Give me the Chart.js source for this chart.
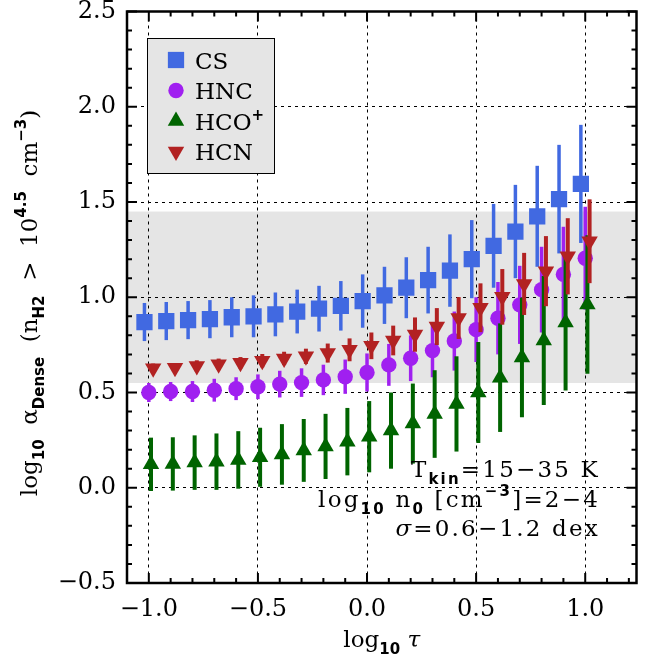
<!DOCTYPE html>
<html>
<head>
<meta charset="utf-8">
<script src="https://cdn.jsdelivr.net/npm/chart.js@4.4.1/dist/chart.umd.min.js"></script>
<style>
  html, body { margin: 0; padding: 0; background: #fff; }
  #wrap { width: 648px; height: 663px; }
</style>
</head>
<body>
<div id="wrap"><canvas id="chart" width="648" height="663"></canvas></div>
<script>
// log10 tau sample points (each species is nudged sideways a little so the bars don't overlap)
const tau = [-1.0, -0.9, -0.8, -0.7, -0.6, -0.5, -0.4, -0.3, -0.2, -0.1, 0.0,
             0.1, 0.2, 0.3, 0.4, 0.5, 0.6, 0.7, 0.8, 0.9, 1.0];

const csVal  = [0.87, 0.875, 0.88, 0.885, 0.895, 0.90, 0.91, 0.925, 0.94, 0.955, 0.98,
                1.01, 1.05, 1.09, 1.14, 1.20, 1.27, 1.345, 1.425, 1.515, 1.595];
const csErr  = [0.10, 0.10, 0.10, 0.10, 0.105, 0.11, 0.115, 0.115, 0.12, 0.13, 0.14,
                0.15, 0.16, 0.175, 0.19, 0.205, 0.22, 0.245, 0.265, 0.285, 0.31];

const hncVal = [0.50, 0.505, 0.505, 0.512, 0.52, 0.53, 0.544, 0.552, 0.566, 0.583, 0.605,
                0.645, 0.68, 0.72, 0.77, 0.83, 0.89, 0.96, 1.04, 1.12, 1.205];
const hncErr = [0.05, 0.05, 0.055, 0.06, 0.06, 0.065, 0.07, 0.075, 0.08, 0.09, 0.10,
                0.11, 0.12, 0.14, 0.155, 0.17, 0.19, 0.205, 0.225, 0.25, 0.27];

const hcoVal = [0.123, 0.125, 0.132, 0.137, 0.146, 0.16, 0.175, 0.196, 0.217, 0.242, 0.268,
                0.30, 0.337, 0.387, 0.44, 0.50, 0.578, 0.684, 0.773, 0.867, 0.962];
const hcoErr = [0.14, 0.14, 0.143, 0.148, 0.151, 0.155, 0.159, 0.165, 0.171, 0.177, 0.187,
                0.20, 0.21, 0.23, 0.25, 0.265, 0.285, 0.314, 0.338, 0.357, 0.364];

const hcnVal = [0.627, 0.63, 0.639, 0.648, 0.656, 0.667, 0.679, 0.69, 0.707, 0.724, 0.745,
                0.773, 0.804, 0.846, 0.891, 0.945, 1.002, 1.07, 1.137, 1.215, 1.294];
const hcnErr = [0.025, 0.025, 0.03, 0.03, 0.03, 0.035, 0.035, 0.04, 0.05, 0.06, 0.07,
                0.078, 0.09, 0.097, 0.11, 0.128, 0.146, 0.163, 0.184, 0.2, 0.22];

const xTicks = [-1.0, -0.5, 0.0, 0.5, 1.0];
const yTicks = [-0.5, 0.0, 0.5, 1.0, 1.5, 2.0, 2.5];
const xRange = [-1.1, 1.235];
const yRange = [-0.5, 2.5];
const band = [0.55, 1.45];   // shaded observed range

const MAIN = '23px "DejaVu Serif"';
const ITAL = 'italic 23px "DejaVu Serif"';
const SUB = 'bold 15px "DejaVu Sans"';

function pts(vals, shift) {
  return vals.map((v, i) => ({ x: tau[i] + shift, y: v }));
}

function fmt(v) {
  return (v < 0 ? '\u2212' : '') + Math.abs(v).toFixed(1);
}

// draws a run of text pieces, each with its own font and baseline shift
function drawRich(ctx, parts, x, y, align) {
  let total = 0;
  parts.forEach(p => { ctx.font = p[1]; total += ctx.measureText(p[0]).width; });
  let cx = align === 'right' ? x - total : align === 'center' ? x - total / 2 : x;
  parts.forEach(p => {
    ctx.font = p[1];
    ctx.fillText(p[0], cx, y + (p[2] || 0));
    cx += ctx.measureText(p[0]).width;
  });
}

const series = [
  { label: 'CS',  data: pts(csVal, -0.02), err: csErr, color: '#4169E1', style: 'rect', radius: 11.5, rot: 0, bar: 3.5, order: 7 },
  { label: 'HNC', data: pts(hncVal, 0.0), err: hncErr, color: '#A020F0', style: 'circle', radius: 7.7, rot: 0, bar: 3.5, order: 5 },
  { label: 'HCO', data: pts(hcoVal, 0.01), err: hcoErr, color: '#006400', style: 'triangle', radius: 9.5, rot: 0, bar: 4, order: 3 },
  { label: 'HCN', data: pts(hcnVal, 0.02), err: hcnErr, color: '#B22222', style: 'triangle', radius: 9.5, rot: 180, bar: 4, order: 1 }
];

const bandPlugin = {
  id: 'band',
  beforeDraw(chart) {
    const { ctx, chartArea: a, scales: { y } } = chart;
    ctx.save();
    ctx.fillStyle = '#e5e5e5';
    const top = y.getPixelForValue(band[1]);
    const bot = y.getPixelForValue(band[0]);
    ctx.fillRect(a.left, top, a.right - a.left, bot - top);
    ctx.restore();
  }
};

// vertical error bars, drawn just under each species' markers
const errorBars = {
  id: 'errorBars',
  beforeDatasetDraw(chart, args) {
    const ds = chart.data.datasets[args.index];
    if (!ds.err) return;
    const { ctx, scales: { x, y } } = chart;
    ctx.save();
    ctx.strokeStyle = ds.pointBackgroundColor;
    ctx.lineWidth = ds.barWidth;
    ds.data.forEach((d, i) => {
      const px = x.getPixelForValue(d.x);
      ctx.beginPath();
      ctx.moveTo(px, y.getPixelForValue(d.y + ds.err[i]));
      ctx.lineTo(px, y.getPixelForValue(d.y - ds.err[i]));
      ctx.stroke();
    });
    ctx.restore();
  }
};

// box frame with inward major/minor ticks on all four sides
const frame = {
  id: 'frame',
  afterDraw(chart) {
    const { ctx, chartArea: a, scales: { x, y } } = chart;
    ctx.save();
    ctx.strokeStyle = '#000';
    ctx.lineWidth = 2;
    for (let k = -11; k <= 12; k++) {
      const v = k / 10;
      const px = x.getPixelForValue(v);
      const len = k % 5 === 0 ? 10 : 5;
      ctx.beginPath();
      ctx.moveTo(px, a.bottom); ctx.lineTo(px, a.bottom - len);
      ctx.moveTo(px, a.top); ctx.lineTo(px, a.top + len);
      ctx.stroke();
    }
    for (let k = -5; k <= 25; k++) {
      const py = y.getPixelForValue(k / 10);
      const len = k % 5 === 0 ? 10 : 5;
      ctx.beginPath();
      ctx.moveTo(a.left, py); ctx.lineTo(a.left + len, py);
      ctx.moveTo(a.right, py); ctx.lineTo(a.right - len, py);
      ctx.stroke();
    }
    ctx.lineWidth = 2.5;
    ctx.strokeRect(a.left, a.top, a.right - a.left, a.bottom - a.top);
    ctx.restore();
  }
};

const labels = {
  id: 'labels',
  afterDraw(chart) {
    const { ctx, chartArea: a } = chart;
    ctx.save();
    ctx.textBaseline = 'alphabetic';

    // legend
    ctx.fillStyle = '#e5e5e5';
    ctx.fillRect(147, 38, 127, 135);
    ctx.strokeStyle = '#000';
    ctx.lineWidth = 1;
    ctx.strokeRect(147.5, 38.5, 127, 135);
    series.forEach((s, i) => {
      const ly = 60 + i * 30.5;
      ctx.fillStyle = s.color;
      Chart.helpers.drawPoint(ctx, { pointStyle: s.style, radius: s.radius, rotation: s.rot, borderWidth: 0 }, 176, ly);
      ctx.fillStyle = '#000';
      const parts = [[s.label, MAIN]];
      if (s.label === 'HCO') parts.push(['+', SUB, -10]);
      drawRich(ctx, parts, 195, ly + 8.5, 'left');
    });

    // parameter notes
    ctx.fillStyle = '#000';
    ctx.letterSpacing = '2.2px';
    drawRich(ctx, [['T', MAIN], ['kin', SUB, 7], ['=15\u221235 K', MAIN]], 600, 477, 'right');
    drawRich(ctx, [['log', MAIN], ['10', SUB, 7], [' n', MAIN], ['0', SUB, 7], [' [cm', MAIN], ['\u22123', SUB, -11], [']=2\u22124', MAIN]], 600, 507, 'right');
    drawRich(ctx, [['\u03C3', ITAL], ['=0.6\u22121.2 dex', MAIN]], 600, 536, 'right');
    ctx.letterSpacing = '0px';

    // axis titles
    drawRich(ctx, [['log', MAIN], ['10', SUB, 7], [' ', MAIN], ['\u03C4', ITAL]], (a.left + a.right) / 2, 647, 'center');
    ctx.translate(37, 303);
    ctx.rotate(-Math.PI / 2);
    drawRich(ctx, [['log', MAIN], ['10', SUB, 7], ['  \u03B1', MAIN], ['Dense', SUB, 7], ['  (n', MAIN], ['H2', SUB, 7],
                   ['  >  10', MAIN], ['4.5', SUB, -11], ['  cm', MAIN], ['\u22123', SUB, -11], [')', MAIN]], 0, 0, 'center');
    ctx.restore();
  }
};

new Chart(document.getElementById('chart'), {
  type: 'scatter',
  data: {
    datasets: series.map(s => ({
      label: s.label,
      data: s.data,
      err: s.err,
      barWidth: s.bar,
      order: s.order,
      pointStyle: s.style,
      pointRadius: s.radius,
      pointRotation: s.rot,
      pointBackgroundColor: s.color,
      pointBorderWidth: 0,
      showLine: false
    }))
  },
  options: {
    responsive: false,
    animation: false,
    devicePixelRatio: 1,
    layout: { padding: { top: 8, right: 3, left: 0, bottom: 0 } },
    plugins: { legend: { display: false }, tooltip: { enabled: false } },
    scales: {
      x: {
        type: 'linear',
        min: xRange[0],
        max: xRange[1],
        afterBuildTicks: s => { s.ticks = xTicks.map(v => ({ value: v })); },
        afterFit: s => { s.height = 80; s.paddingLeft = 0; s.paddingRight = 0; },
        ticks: { callback: v => fmt(v), color: '#000', padding: 12, maxRotation: 0, autoSkip: false,
                 font: { family: 'DejaVu Serif', size: 24 } },
        grid: { color: '#000', lineWidth: 1, drawTicks: false },
        border: { display: false, dash: [3, 4] }
      },
      y: {
        min: yRange[0],
        max: yRange[1],
        afterBuildTicks: s => { s.ticks = yTicks.map(v => ({ value: v })); },
        afterFit: s => { s.width = 127; s.paddingTop = 0; s.paddingBottom = 0; },
        ticks: { callback: v => fmt(v), color: '#000', padding: 11, autoSkip: false,
                 font: { family: 'DejaVu Serif', size: 24 } },
        grid: { color: '#000', lineWidth: 1, drawTicks: false },
        border: { display: false, dash: [3, 4] }
      }
    }
  },
  plugins: [bandPlugin, errorBars, frame, labels]
});
</script>
</body>
</html>
